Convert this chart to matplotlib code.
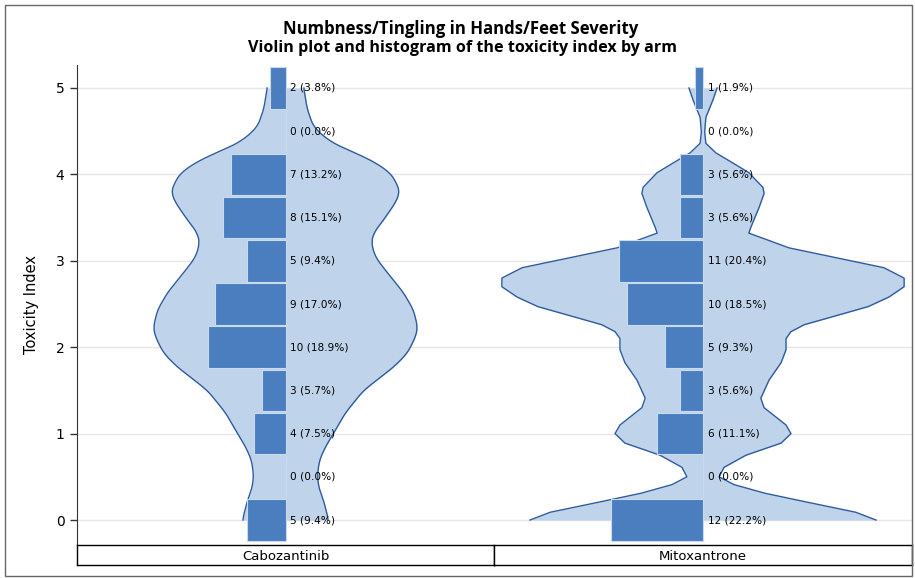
import matplotlib.pyplot as plt
from matplotlib.patches import Rectangle
import numpy as np

plt.rcParams['font.family'] = ['DejaVu Sans']

# histogram bins (toxicity index) and counts per arm
levels = [5.0, 4.5, 4.0, 3.5, 3.0, 2.5, 2.0, 1.5, 1.0, 0.5, 0.0]
arms = ['Cabozantinib', 'Mitoxantrone']
caboz_counts = [2, 0, 7, 8, 5, 9, 10, 3, 4, 0, 5]
mito_counts = [1, 0, 3, 3, 11, 10, 5, 3, 6, 0, 12]

# violin outline: toxicity index and half width (axis units)
caboz_vy = [0.0, 0.1, 0.23, 0.35, 0.5, 0.69, 0.85, 1.0, 1.24, 1.5, 1.77, 1.93, 2.12,
            2.23, 2.43, 2.63, 2.86, 3.04, 3.2, 3.32, 3.47, 3.67, 3.78, 3.85, 4.02,
            4.17, 4.32, 4.4, 4.55, 4.75, 5.0]
caboz_vw = [10.4, 9.9, 9.2, 8.2, 7.7, 8.2, 9.7, 11.6, 14.5, 18.9, 26.2, 29.5, 31.5,
            32.0, 31.0, 28.6, 24.7, 21.8, 20.8, 21.3, 23.7, 26.6, 27.6, 27.4, 25.4,
            20.6, 13.3, 10.2, 6.8, 5.3, 4.4]
mito_vy = [0.0, 0.09, 0.21, 0.31, 0.41, 0.5, 0.61, 0.75, 0.89, 1.0, 1.1, 1.3, 1.41,
           1.62, 1.82, 1.97, 2.1, 2.18, 2.26, 2.47, 2.58, 2.7, 2.8, 2.92, 3.15, 3.24,
           3.32, 3.39, 3.62, 3.78, 3.85, 4.02, 4.13, 4.25, 4.36, 4.49, 4.66, 4.86, 5.0]
mito_vw = [41.9, 37.0, 24.9, 15.0, 7.5, 3.9, 5.1, 10.4, 18.9, 21.3, 20.1, 14.8, 14.0,
           16.0, 18.9, 20.1, 20.1, 21.3, 24.5, 40.0, 45.0, 48.7, 48.7, 43.8, 20.8, 15.7,
           11.1, 11.6, 13.6, 14.8, 14.5, 11.1, 7.3, 3.1, 0.7, 0.4, 0.7, 2.4, 3.4]

yticks = [0, 1, 2, 3, 4, 5]

BAR = '#4a7ebf'
FILL = '#bfd3ea'
LINE = '#2f5b9e'

fig = plt.figure(figsize=(9.15, 5.78), dpi=100)
W, H = 915, 578

def fx(px):
    return px / W

def fy(py):
    return 1 - py / H

def outline(vy, vw, smooth):
    # the cabozantinib outline is a smooth curve, mitoxantrone is drawn as segments
    if not smooth:
        return np.array(vy), np.array(vw)
    yy = np.linspace(vy[0], vy[-1], 501)
    ww = np.interp(yy, vy, vw)
    k = 15
    pad = np.pad(ww, k // 2, mode='edge')
    ww = np.convolve(pad, np.ones(k) / k, mode='valid')
    return yy, ww

panels = [(77, 494), (494, 912)]
data = [(caboz_counts, caboz_vy, caboz_vw, True), (mito_counts, mito_vy, mito_vw, False)]

for i, ((x0, x1), (counts, vy, vw, smooth)) in enumerate(zip(panels, data)):
    ax = fig.add_axes([fx(x0), fy(545), fx(x1 - x0), (545 - 65) / H])
    half = (x1 - x0) / 2 / 4.13
    ax.set_xlim(-half, half)
    ax.set_ylim(-0.289, 5.266)
    ax.grid(axis='y', color='#e6e6e6', lw=1)
    ax.set_axisbelow(True)
    ax.set_yticks(yticks)
    ax.set_xticks([])
    for s in ['top', 'right', 'bottom']:
        ax.spines[s].set_visible(False)

    yy, ww = outline(vy, vw, smooth)
    ax.fill_betweenx(yy, -ww, ww, color=FILL, lw=0, zorder=2)
    ax.plot(-ww, yy, color=LINE, lw=1, zorder=3)
    ax.plot(ww, yy, color=LINE, lw=1, zorder=3)

    total = sum(counts)
    pct = [c / total * 100 for c in counts]
    ax.barh(levels, [-p for p in pct], left=0, height=0.48, color=BAR,
            edgecolor='#c9daee', lw=0.8, zorder=4)
    for lv, c, p in zip(levels, counts, pct):
        ax.text(1.1, lv, f'{c} ({p:.1f}%)', fontsize=7.6, va='center', ha='left',
                color='black', zorder=5)

    if i == 0:
        ax.spines['left'].set_color('#333333')
        ax.tick_params(axis='y', length=5, width=1, color='#333333', labelsize=10, pad=4)
        ax.set_ylabel('Toxicity Index', fontsize=10.5, labelpad=12)
    else:
        ax.spines['left'].set_visible(False)
        ax.tick_params(axis='y', length=0, labelleft=False)

    sax = fig.add_axes([fx(x0), fy(565), fx(x1 - x0), 20 / H])
    sax.set_xticks([])
    sax.set_yticks([])
    for s in sax.spines.values():
        s.set_color('black')
        s.set_linewidth(1)
    sax.text(0.5, 0.45, arms[i], ha='center', va='center', fontsize=9.5,
             transform=sax.transAxes)

fig.text(0.503, fy(33.7), 'Numbness/Tingling in Hands/Feet Severity', ha='center',
         va='baseline', fontsize=12.1, fontweight='bold', family='Open Sans')
fig.text(0.505, fy(52.5), 'Violin plot and histogram of the toxicity index by arm',
         ha='center', va='baseline', fontsize=11.6, fontweight='bold', family='Open Sans')

fig.patches.append(Rectangle((fx(5), fy(576)), fx(907), (576 - 5) / H,
                             transform=fig.transFigure, fill=False,
                             edgecolor='#666666', lw=1))

fig.savefig('out.png', dpi=100)
